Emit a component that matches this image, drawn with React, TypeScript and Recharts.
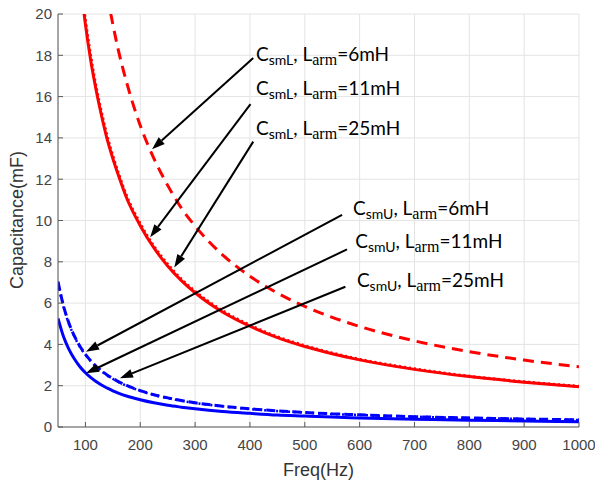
import React from 'react';
import { ComposedChart, Line, XAxis, YAxis, CartesianGrid, ReferenceLine, ReferenceDot } from 'recharts';

const freqs = [50, 60, 70, 80, 90, 100, 110, 120, 130, 140, 150, 160, 175, 200, 225, 250, 275, 300, 350, 400, 450, 500, 550, 600, 700, 800, 900, 1000];
const csmL6 = [null, null, null, null, null, null, null, null, null, 20.9, 19.5, 18.25, 16.7, 14.6, 13.0, 11.7, 10.6, 9.73, 8.34, 7.3, 6.49, 5.84, 5.31, 4.87, 4.17, 3.65, 3.24, 2.92];
const csmL11 = [null, null, null, null, 21.7, 19.5, 17.7, 16.25, 15.0, 13.9, 13.0, 12.2, 11.1, 9.75, 8.67, 7.8, 7.09, 6.5, 5.57, 4.88, 4.33, 3.9, 3.55, 3.25, 2.79, 2.44, 2.17, 1.95];
const csmL25 = [null, null, null, null, 21.9, 19.7, 17.9, 16.4, 15.15, 14.05, 13.12, 12.3, 11.2, 9.85, 8.75, 7.88, 7.16, 6.57, 5.63, 4.93, 4.37, 3.94, 3.58, 3.28, 2.82, 2.46, 2.19, 1.97];
const csmU6 = [7.04, 5.87, 5.03, 4.4, 3.91, 3.52, 3.2, 2.93, 2.71, 2.51, 2.35, 2.2, 2.01, 1.76, 1.56, 1.41, 1.28, 1.17, 1.01, 0.88, 0.78, 0.7, 0.64, 0.59, 0.5, 0.44, 0.39, 0.35];
const csmU11 = [5.26, 4.38, 3.76, 3.29, 2.92, 2.63, 2.39, 2.19, 2.02, 1.88, 1.75, 1.64, 1.5, 1.32, 1.17, 1.05, 0.96, 0.88, 0.75, 0.66, 0.58, 0.53, 0.48, 0.44, 0.38, 0.33, 0.29, 0.26];
const csmU25 = [6.98, 5.83, 4.99, 4.37, 3.88, 3.5, 3.18, 2.91, 2.69, 2.49, 2.33, 2.18, 2.0, 1.75, 1.55, 1.4, 1.27, 1.16, 1.0, 0.87, 0.77, 0.7, 0.63, 0.58, 0.5, 0.43, 0.39, 0.34];

const xTicks = [100, 200, 300, 400, 500, 600, 700, 800, 900, 1000];
const yTicks = [0, 2, 4, 6, 8, 10, 12, 14, 16, 18, 20];

const labelSub = ['smL', 'smL', 'smL', 'smU', 'smU', 'smU'];
const labelVal = ['6mH', '11mH', '25mH', '6mH', '11mH', '25mH'];
const labelF = [411, 411, 411, 588, 592, 595];
const labelC = [17.72, 16.1, 14.14, 10.27, 8.65, 6.79];

const arrowFromF = [406, 401, 406, 568, 577, 574];
const arrowFromC = [17.87, 15.64, 13.82, 10.27, 8.6, 6.79];
const arrowToF = [221.5, 218, 262, 101, 101, 163];
const arrowToC = [13.45, 9.19, 7.73, 3.65, 2.6, 2.36];

const data = freqs.map((f, i) => ({
  f,
  csmL6: csmL6[i],
  csmL11: csmL11[i],
  csmL25: csmL25[i],
  csmU6: csmU6[i],
  csmU11: csmU11[i],
  csmU25: csmU25[i],
}));

const ArrowShape = (p: any) => {
  const { x1, y1, x2, y2 } = p;
  const dx = x2 - x1;
  const dy = y2 - y1;
  const len = Math.sqrt(dx * dx + dy * dy) || 1;
  const ux = dx / len;
  const uy = dy / len;
  const hl = 13;
  const hw = 4.5;
  const bx = x2 - ux * hl;
  const by = y2 - uy * hl;
  const pts = `${x2},${y2} ${bx - uy * hw},${by + ux * hw} ${bx + uy * hw},${by - ux * hw}`;
  return (
    <g>
      <line x1={x1} y1={y1} x2={bx} y2={by} stroke="#000" strokeWidth={2} />
      <polygon points={pts} fill="#000" />
    </g>
  );
};

const LabelShape = (sub: string, val: string) => (p: any) => (
  <text x={p.cx} y={p.cy} fontFamily="Lato" fontSize={19} fill="#000">
    <tspan>C</tspan>
    <tspan fontSize={14} dy={4}>{sub}</tspan>
    <tspan dy={-4}>, L</tspan>
    <tspan fontFamily="Liberation Serif" fontSize={16} dy={4}>arm</tspan>
    <tspan dy={-4}>={val}</tspan>
  </text>
);

const axisColor = '#5a5a5a';
const tickStyle = { fontFamily: 'Liberation Sans, Arial', fontSize: 15, fill: '#444' };

export default function App() {
  return (
    <div style={{ position: 'absolute', left: 0, top: 0, width: 595, height: 485, background: '#fff' }}>
      <ComposedChart width={595} height={485} data={data} margin={{ top: 14, right: 16, left: 0, bottom: 0 }}>
        <CartesianGrid stroke="#e4e4e4" strokeWidth={1} />
        <XAxis
          dataKey="f"
          type="number"
          domain={[50, 1000]}
          ticks={xTicks}
          allowDataOverflow
          height={58}
          stroke={axisColor}
          tickSize={-5}
          tickMargin={17}
          tick={tickStyle}
          label={{
            content: (props: any) => {
              const vb = props.viewBox;
              return (
                <text x={vb.x + vb.width / 2} y={476} textAnchor="middle" fontFamily="Liberation Sans, Arial" fontSize={18} fill="#333">
                  Freq(Hz)
                </text>
              );
            },
          }}
        />
        <XAxis
          xAxisId="top"
          orientation="top"
          dataKey="f"
          type="number"
          domain={[50, 1000]}
          ticks={xTicks}
          allowDataOverflow
          height={0}
          stroke={axisColor}
          tickSize={-5}
          tickFormatter={() => ''}
        />
        <YAxis
          type="number"
          domain={[0, 20]}
          ticks={yTicks}
          allowDataOverflow
          width={58}
          stroke={axisColor}
          tickSize={-5}
          tickMargin={11}
          tick={tickStyle}
          label={{
            content: () => (
              <text x={23} y={220} transform="rotate(-90 23 220)" textAnchor="middle" fontFamily="Liberation Sans, Arial" fontSize={18} fill="#333">
                Capacitance(mF)
              </text>
            ),
          }}
        />
        <YAxis
          yAxisId="right"
          orientation="right"
          type="number"
          domain={[0, 20]}
          ticks={yTicks}
          allowDataOverflow
          width={0}
          stroke={axisColor}
          tickSize={-5}
          tickFormatter={() => ''}
        />
        <Line dataKey="csmU11" stroke="#0000ff" strokeWidth={3} dot={false} isAnimationActive={false} type="monotone" />
        <Line dataKey="csmU6" stroke="#0000ff" strokeWidth={3} strokeDasharray="9 4" dot={false} isAnimationActive={false} type="monotone" />
        <Line dataKey="csmU25" stroke="#0000ff" strokeWidth={2.5} strokeDasharray="2 4" dot={false} isAnimationActive={false} type="monotone" />
        <Line dataKey="csmL11" stroke="#ff0000" strokeWidth={3} dot={false} isAnimationActive={false} type="monotone" />
        <Line dataKey="csmL25" stroke="#ff0000" strokeWidth={3} strokeDasharray="2 3" dot={false} isAnimationActive={false} type="monotone" />
        <Line dataKey="csmL6" stroke="#ff0000" strokeWidth={3} strokeDasharray="11 7" dot={false} isAnimationActive={false} type="monotone" />
        {arrowFromF.map((f, i) => (
          <ReferenceLine
            key={'a' + i}
            segment={[
              { x: f, y: arrowFromC[i] },
              { x: arrowToF[i], y: arrowToC[i] },
            ]}
            shape={ArrowShape}
            ifOverflow="visible"
          />
        ))}
        {labelF.map((f, i) => (
          <ReferenceDot key={'l' + i} x={f} y={labelC[i]} r={0} ifOverflow="visible" shape={LabelShape(labelSub[i], labelVal[i])} />
        ))}
      </ComposedChart>
    </div>
  );
}
